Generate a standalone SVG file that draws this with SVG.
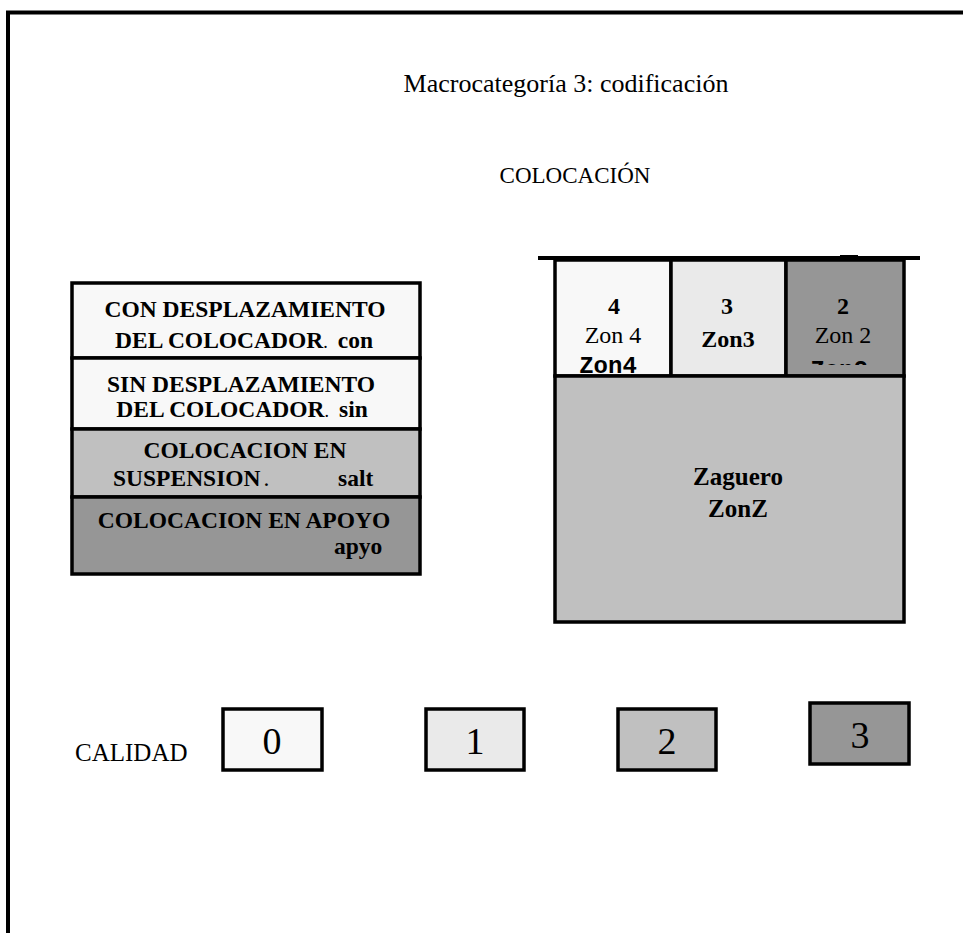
<svg xmlns="http://www.w3.org/2000/svg" width="963" height="933" viewBox="0 0 963 933">
<style>
  .ln{stroke:#000;stroke-width:4;fill:none}
  .bx{stroke:#000;stroke-width:3.5}
  .s{font-family:"Liberation Serif","Times New Roman",serif;fill:#000}
  .b{font-weight:bold}
  .m{font-family:"Courier New","Liberation Mono",monospace;font-weight:bold;fill:#000}
  .c{text-anchor:middle}
  .f0{fill:#f8f8f8}.f1{fill:#eaeaea}.f2{fill:#c0c0c0}.f3{fill:#969696}
</style>
<defs>
  <clipPath id="clipZon2"><rect x="786" y="260" width="117" height="105"/></clipPath>
</defs>
<rect width="963" height="933" fill="#fff"/>
<g id="frame">
  <path class="ln" d="M8 933 V12.5 H963"/>
</g>
<g id="titles">
  <text class="s c" x="566" y="92" font-size="26">Macrocategoría 3: codificación</text>
  <text class="s c" x="575" y="183" font-size="23">COLOCACIÓN</text>
</g>
<g id="left-table">
  <g id="con">
    <rect class="bx f0" x="72" y="283" width="348" height="75"/>
    <text class="s b c" x="245" y="317" font-size="23.5">CON DESPLAZAMIENTO</text>
    <text class="s b c" x="244" y="348" font-size="23.5">DEL COLOCADOR<tspan font-weight="normal" font-size="18">.</tspan><tspan dx="10">con</tspan></text>
  </g>
  <g id="sin">
    <rect class="bx f0" x="72" y="358" width="348" height="71"/>
    <text class="s b c" x="241" y="392" font-size="23.5">SIN DESPLAZAMIENTO</text>
    <text class="s b c" x="242" y="417" font-size="23.5">DEL COLOCADOR<tspan font-weight="normal" font-size="18">.</tspan><tspan dx="10">sin</tspan></text>
  </g>
  <g id="salt">
    <rect class="bx f2" x="72" y="429" width="348" height="68"/>
    <text class="s b c" x="245" y="458" font-size="23.5">COLOCACION EN</text>
    <text class="s b" x="113" y="486" font-size="23.5">SUSPENSION<tspan font-weight="normal" dx="3">.</tspan></text>
    <text class="s b" x="338" y="486" font-size="23.5">salt</text>
  </g>
  <g id="apyo">
    <rect class="bx f3" x="72" y="497" width="348" height="77"/>
    <text class="s b c" x="244" y="528" font-size="23.5">COLOCACION EN APOYO</text>
    <text class="s b" x="334" y="554" font-size="23.5">apyo</text>
  </g>
</g>
<g id="court">
  <g id="zon4">
    <rect class="bx f0" x="555" y="260" width="116" height="116"/>
    <text class="s b c" x="614" y="314" font-size="24">4</text>
    <text class="s c" x="613" y="343" font-size="24">Zon 4</text>
    <text class="m c" x="608" y="373" font-size="24">Zon4</text>
  </g>
  <g id="zon3">
    <rect class="bx f1" x="671" y="260" width="115" height="116"/>
    <text class="s b c" x="727" y="314" font-size="24">3</text>
    <text class="s b c" x="728" y="347" font-size="24">Zon3</text>
  </g>
  <g id="zon2">
    <rect class="bx f3" x="786" y="260" width="118" height="116"/>
    <text class="s b c" x="843" y="314" font-size="24">2</text>
    <text class="s c" x="843" y="343" font-size="24">Zon 2</text>
    <text class="m c" x="839" y="377" font-size="24" clip-path="url(#clipZon2)">Zon2</text>
  </g>
  <g id="zaguero">
    <rect class="bx f2" x="555" y="376" width="349" height="246"/>
    <text class="s b c" x="738" y="485" font-size="25">Zaguero</text>
    <text class="s b c" x="738" y="517" font-size="25">ZonZ</text>
  </g>
  <path class="ln" d="M538 258 H920"/>
  <rect x="840" y="255" width="18" height="5" fill="#000"/>
</g>
<g id="calidad">
  <text class="s" x="75" y="761" font-size="25">CALIDAD</text>
  <g id="q0">
    <rect class="bx f0" x="223" y="709" width="99" height="61"/>
    <text class="s c" x="272" y="754" font-size="38">0</text>
  </g>
  <g id="q1">
    <rect class="bx f1" x="426" y="709" width="98" height="61"/>
    <text class="s c" x="475" y="754" font-size="38">1</text>
  </g>
  <g id="q2">
    <rect class="bx f2" x="618" y="709" width="98" height="61"/>
    <text class="s c" x="667" y="754" font-size="38">2</text>
  </g>
  <g id="q3">
    <rect class="bx f3" x="810" y="703" width="99" height="61"/>
    <text class="s c" x="860" y="748" font-size="38">3</text>
  </g>
</g>
<g id="connectors"/>
</svg>
